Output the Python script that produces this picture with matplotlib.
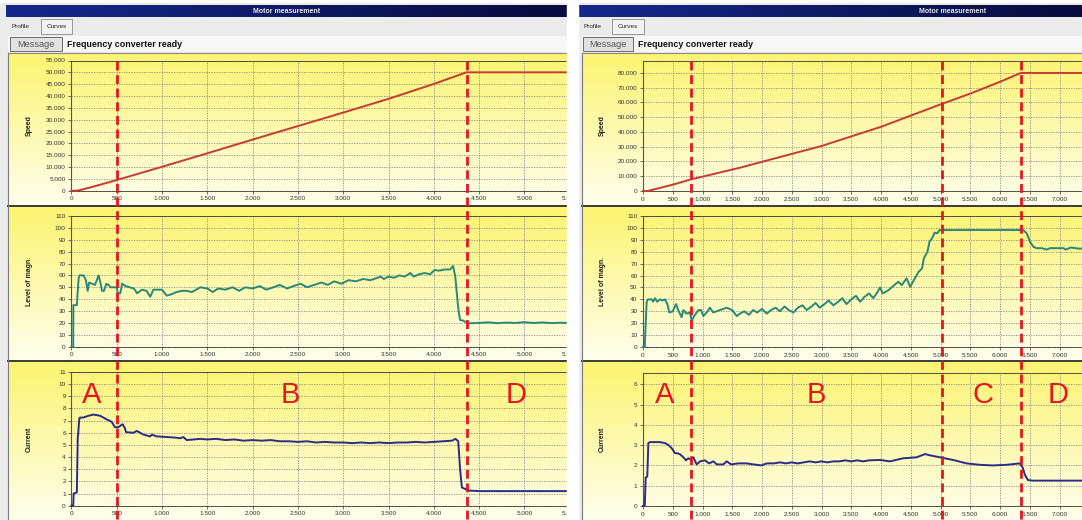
import matplotlib
matplotlib.use('Agg')
import matplotlib.pyplot as plt
import numpy as np
from matplotlib import transforms
from matplotlib.lines import Line2D
from matplotlib.patches import Rectangle
from matplotlib.ticker import FuncFormatter, MultipleLocator

plt.rcParams['font.family'] = ['Liberation Sans', 'DejaVu Sans']

W, H = 1082, 520

# ---------------- left run (max speed 50.000) ----------------
l_speed_t = [0, 50, 100, 150, 250, 500, 1000, 1500, 2000, 2500, 3000, 3500, 4000, 4360, 5500]
l_speed_v = [0, 0, 300, 800, 1800, 4500, 10100, 15800, 21600, 27300, 33000, 38800, 45100, 50000, 50000]

l_magn_t = [0, 20, 22, 60, 80, 90, 135, 160, 180, 195, 230, 260, 300, 320, 338, 360, 385, 410, 430,
            500, 511, 540, 560, 600, 640, 690, 725, 780, 830, 870, 905, 960, 1000, 1052, 1100, 1160,
            1220, 1270, 1330, 1424, 1500, 1560, 1620, 1700, 1780, 1850, 1920, 2000, 2080, 2150, 2230,
            2300, 2380, 2450, 2530, 2600, 2680, 2760, 2830, 2900, 2980, 3060, 3140, 3220, 3300, 3380,
            3410, 3450, 3500, 3560, 3620, 3680, 3740, 3780, 3840, 3900, 3960, 4007, 4060, 4120, 4180,
            4213, 4237, 4260, 4274, 4290, 4320, 4385, 4500, 4600, 4700, 4800, 4900, 5000, 5100, 5200,
            5300, 5400, 5500]
l_magn_v = [0, 0, 35, 35, 58, 60, 60, 56, 47, 54, 53, 52, 60, 54, 47, 47, 53, 52, 50,
            50, 45, 45, 53, 51, 50, 49, 45, 48, 47, 42, 48, 48, 48, 43, 44, 46,
            47, 47, 46, 50, 49, 46, 49, 48, 50, 47, 50, 49, 51, 48, 50,
            52, 49, 51, 53, 50, 52, 54, 52, 55, 53, 56, 55, 57, 56, 58,
            59, 57, 59, 58, 60, 59, 62, 59, 61, 62, 61, 64.5, 64, 65, 65,
            68, 59, 40, 29.5, 22.5, 22, 19.7, 20, 20.5, 19.8, 20.3, 20, 20.6, 20, 20.4,
            19.9, 20.2, 20]

l_curr_t = [0, 20, 25, 45, 60, 70, 88, 95, 130, 190, 242, 316, 390, 445, 481, 518, 545, 566, 590,
            603, 684, 721, 760, 795, 870, 887, 942, 1052, 1150, 1199, 1236, 1273, 1350, 1420, 1500,
            1600, 1700, 1800, 1900, 2000, 2100, 2200, 2300, 2400, 2500, 2600, 2700, 2800, 2900, 3000,
            3100, 3200, 3300, 3400, 3500, 3600, 3700, 3800, 3900, 4000, 4100, 4200, 4240, 4270, 4290,
            4310, 4340, 4380, 4500, 4800, 5100, 5500]
l_curr_v = [0, 0, 1.0, 1.05, 1.1, 5.5, 7.2, 7.25, 7.25, 7.4, 7.5, 7.4, 7.1, 6.9, 6.45, 6.45, 6.6, 6.7, 6.4,
            6.05, 6.0, 6.15, 6.0, 5.85, 5.7, 5.85, 5.7, 5.65, 5.6, 5.55, 5.65, 5.4, 5.45, 5.5, 5.45,
            5.5, 5.4, 5.45, 5.35, 5.4, 5.35, 5.4, 5.3, 5.3, 5.25, 5.3, 5.2, 5.25, 5.2, 5.2,
            5.15, 5.2, 5.15, 5.2, 5.15, 5.2, 5.2, 5.25, 5.2, 5.25, 5.3, 5.35, 5.5, 5.3, 3.0,
            1.5, 1.4, 1.25, 1.2, 1.2, 1.2, 1.2]

l_marks = [500, 4370]
l_phases = ['A', 'B', 'D']
l_phase_x = [227, 2413, 4907]

# ---------------- right run (max speed 80.000) ----------------
r_speed_t = [0, 80, 500, 810, 1630, 3000, 4000, 5020, 5500, 6000, 6350, 7400]
r_speed_v = [0, 0, 4300, 7900, 15800, 30500, 43500, 59000, 66000, 74000, 80000, 80000]

r_magn_t = [0, 30, 45, 62, 84, 146, 170, 202, 240, 286, 330, 370, 409, 443, 499, 555, 600, 650, 678,
            730, 790, 818, 860, 930, 975, 1014, 1070, 1126, 1180, 1294, 1406, 1500, 1575, 1630, 1700,
            1780, 1850, 1920, 2000, 2080, 2150, 2230, 2300, 2380, 2450, 2530, 2600, 2680, 2750, 2830,
            2900, 2970, 3050, 3120, 3200, 3280, 3350, 3420, 3500, 3580, 3650, 3720, 3800, 3870, 3940,
            3983, 4030, 4124, 4200, 4290, 4350, 4430, 4490, 4550, 4630, 4690, 4720, 4780, 4815, 4860,
            4900, 4945, 4985, 6392, 6448, 6504, 6560, 6617, 6700, 6784, 6840, 6900, 7000, 7070, 7100,
            7190, 7270, 7350, 7400]
r_magn_v = [0, 0, 20, 38, 40, 40, 38, 41, 38, 40, 39, 40, 36, 29, 30, 36, 30, 25, 31,
            28, 29, 22, 26, 31, 31, 26, 29, 33, 29, 31, 33, 31, 26, 28, 30,
            27, 31, 29, 32, 28, 31, 33, 30, 34, 31, 29, 33, 35, 31, 34,
            37, 33, 36, 39, 35, 38, 41, 36, 40, 43, 38, 42, 45, 41, 46,
            50, 45, 47.6, 51, 54.8, 52, 57.7, 50.5, 56, 63, 66, 74.5, 80, 88.4, 91.3,
            96, 95.5, 98.2, 98.2, 95.5, 88.4, 84.2, 83, 83, 81.8, 83, 83, 83, 83, 81.8,
            83.5, 83, 82.5, 83]

r_curr_t = [0, 30, 45, 72, 90, 118, 286, 370, 430, 482, 538, 580, 622, 680, 722, 760, 800, 846, 902,
            960, 1042, 1110, 1182, 1240, 1350, 1406, 1480, 1600, 1742, 1854, 1994, 2080, 2200, 2302,
            2400, 2500, 2600, 2700, 2800, 2900, 3000, 3100, 3200, 3300, 3400, 3500, 3600, 3700, 3800,
            3983, 4150, 4370, 4600, 4740, 4820, 4990, 5210, 5440, 5660, 5880, 6110, 6330, 6380, 6420,
            6470, 6550, 7000, 7400]
r_curr_v = [0, 0, 1.4, 1.45, 3.1, 3.15, 3.15, 3.1, 3.0, 2.85, 2.6, 2.6, 2.55, 2.4, 2.25, 2.35, 2.3, 2.4, 2.05,
            2.2, 2.25, 2.1, 2.2, 2.05, 2.05, 2.2, 2.05, 2.1, 2.1, 2.05, 2.0, 2.1, 2.1, 2.15,
            2.1, 2.15, 2.1, 2.15, 2.2, 2.15, 2.2, 2.15, 2.2, 2.2, 2.25, 2.2, 2.25, 2.2, 2.25,
            2.27, 2.2, 2.35, 2.4, 2.56, 2.5, 2.4, 2.27, 2.1, 2.03, 2.0, 2.03, 2.1, 1.9, 1.53,
            1.28, 1.25, 1.25, 1.25]

r_marks = [810, 5020, 6350]
r_phases = ['A', 'B', 'C', 'D']
r_phase_x = [370, 2908, 5714, 6975]

ylabels = ['Speed', 'Level of magn.', 'Current']
curve_colors = ['#c83a32', '#2a8878', '#2a2c88']
red = '#e8141e'


def rect(x0, y0, x1, y1):
    return [x0 / W, 1 - y1 / H, (x1 - x0) / W, (y1 - y0) / H]


def fmt(v, p):
    return '{:,}'.format(int(round(v))).replace(',', '.')


fig = plt.figure(figsize=(W / 100, H / 100), dpi=100)
fig.patch.set_facecolor('white')

# window chrome drawn in pixel coordinates
bg = fig.add_axes([0, 0, 1, 1], zorder=-1)
bg.set_axis_off()

top_col = np.array([252, 244, 112]) / 255
bot_col = np.array([255, 254, 236]) / 255
grad = np.linspace(0, 1, 120)[:, None, None]
vgrad = top_col * (1 - grad) + bot_col * grad
hg = np.linspace(0, 1, 200)[None, :, None]
bar = np.array([22, 40, 140]) / 255 * (1 - hg) + np.array([8, 12, 60]) / 255 * hg

for (sx0, sx1, px0, btn, msg_x, prof_x, cur_box, title_x) in [
        (0, 567, 8, (10, 62), 67, 12, (41, 72), 287),
        (578, 1082, 582, (583, 633), 638, 584, (612, 644), 953)]:
    bg.add_patch(Rectangle((sx0, 3), sx1 - sx0, H, color='#ebebeb', zorder=0))
    bg.imshow(bar, extent=(sx0 + 6 if sx0 == 0 else sx0, sx1, 17, 5), aspect='auto', zorder=1)
    bg.text(title_x, 11.3, 'Motor measurement', color='#e8e8e8',
            fontsize=5, fontweight='bold', ha='center', va='center', zorder=2)
    bg.text(prof_x, 26, 'Profile', fontsize=4.6, color='#222', va='center', zorder=2)
    bg.add_patch(Rectangle((cur_box[0], 19), cur_box[1] - cur_box[0], 15, facecolor='#f2f2f2',
                           edgecolor='#8a8a8a', lw=0.6, zorder=2))
    bg.text((cur_box[0] + cur_box[1]) / 2, 26.5, 'Curves', fontsize=4.6, color='#222',
            ha='center', va='center', zorder=3)
    bg.add_patch(Rectangle((px0, 36), sx1 - px0, 16, facecolor='#f7f7f7', edgecolor='none', zorder=1))
    bg.add_patch(Rectangle((btn[0], 37), btn[1] - btn[0], 14, facecolor='#e2e2e2',
                           edgecolor='#6a6a6a', lw=0.7, zorder=2))
    bg.text((btn[0] + btn[1]) / 2, 44.5, 'Message', fontsize=6.6, color='#555',
            ha='center', va='center', zorder=3)
    bg.text(msg_x, 44.5, 'Frequency converter ready', fontsize=6.4, fontweight='bold',
            color='#111', va='center', zorder=3)
    for (y0, y1) in [(53, 205), (207, 360), (362, 520)]:
        bg.imshow(vgrad, extent=(px0, sx1, y1, y0), aspect='auto', zorder=1)
    bg.plot([px0, sx1], [52.5, 52.5], color='#8a8a8a', lw=0.8, zorder=2)
    for ys in [206, 361]:
        bg.plot([px0, sx1], [ys, ys], color='#3a3a3a', lw=1.4, zorder=2)
    bg.plot([px0, px0], [52.5, H], color='#7a7a7a', lw=0.8, zorder=2)
bg.set_xlim(0, W)
bg.set_ylim(H, 0)

# data axes
runs = [
    dict(x0=71.4, x1=569.7, xmax=5500,
         rows=[(60.5, 190.7, 55000, 5000), (216, 346.7, 110, 10), (372, 505.7, 11, 1)],
         data=[(l_speed_t, l_speed_v), (l_magn_t, l_magn_v), (l_curr_t, l_curr_v)],
         marks=l_marks, phases=l_phases, phase_x=l_phase_x, phase_y=9.1, lab_x=33),
    dict(x0=643, x1=1083.3, xmax=7400,
         rows=[(60.7, 191, 88300, 10000), (216, 347, 110, 10), (372.7, 506, 6.57, 1)],
         data=[(r_speed_t, r_speed_v), (r_magn_t, r_magn_v), (r_curr_t, r_curr_v)],
         marks=r_marks, phases=r_phases, phase_x=r_phase_x, phase_y=5.47, lab_x=606),
]

for run in runs:
    axes = []
    for i, (y0, y1, ymax, ystep) in enumerate(run['rows']):
        ax = fig.add_axes(rect(run['x0'], y0, run['x1'], y1))
        ax.patch.set_alpha(0)
        t, v = run['data'][i]
        ax.plot(t, v, color=curve_colors[i], lw=1.4, zorder=3, clip_on=False)
        ax.set_xlim(0, run['xmax'])
        ax.set_ylim(0, ymax)
        ax.xaxis.set_major_locator(MultipleLocator(500))
        ax.yaxis.set_major_locator(MultipleLocator(ystep))
        ax.xaxis.set_major_formatter(FuncFormatter(fmt))
        ax.yaxis.set_major_formatter(FuncFormatter(fmt))
        ax.tick_params(labelsize=4.6, labelcolor='#333', color='#555', length=2.5, width=0.6, pad=1.5)
        ax.grid(True, color='#8a8a8a', linestyle=(0, (1.5, 1.5)), linewidth=0.6)
        ax.set_axisbelow(True)
        for s in ['top', 'bottom']:
            ax.spines[s].set_linestyle((0, (2, 1.2)))
            ax.spines[s].set_color('#444')
            ax.spines[s].set_linewidth(0.7)
        ax.spines['left'].set_color('#555')
        ax.spines['left'].set_linewidth(0.8)
        ax.spines['right'].set_visible(False)
        ax.set_ylabel(ylabels[i], fontsize=5, fontweight='bold', color='#222')
        ax.yaxis.set_label_coords((run['lab_x'] - run['x0']) / (run['x1'] - run['x0']), 0.5)
        axes.append(ax)
    for p, px in zip(run['phases'], run['phase_x']):
        axes[2].text(px, run['phase_y'], p, color=red, fontsize=21, ha='center', va='center', zorder=4)
    trans = transforms.blended_transform_factory(axes[0].transData, fig.transFigure)
    for m in run['marks']:
        fig.add_artist(Line2D([m, m], [1 - 60.5 / H, 0], transform=trans, color=red,
                              lw=2.0, dashes=(3.2, 1.7), zorder=5))

# white gap between the two screenshots
fig.add_artist(Rectangle((567 / W, 0), 11 / W, 1, transform=fig.transFigure,
                         color='white', zorder=10))

plt.savefig('out.png', dpi=100)
